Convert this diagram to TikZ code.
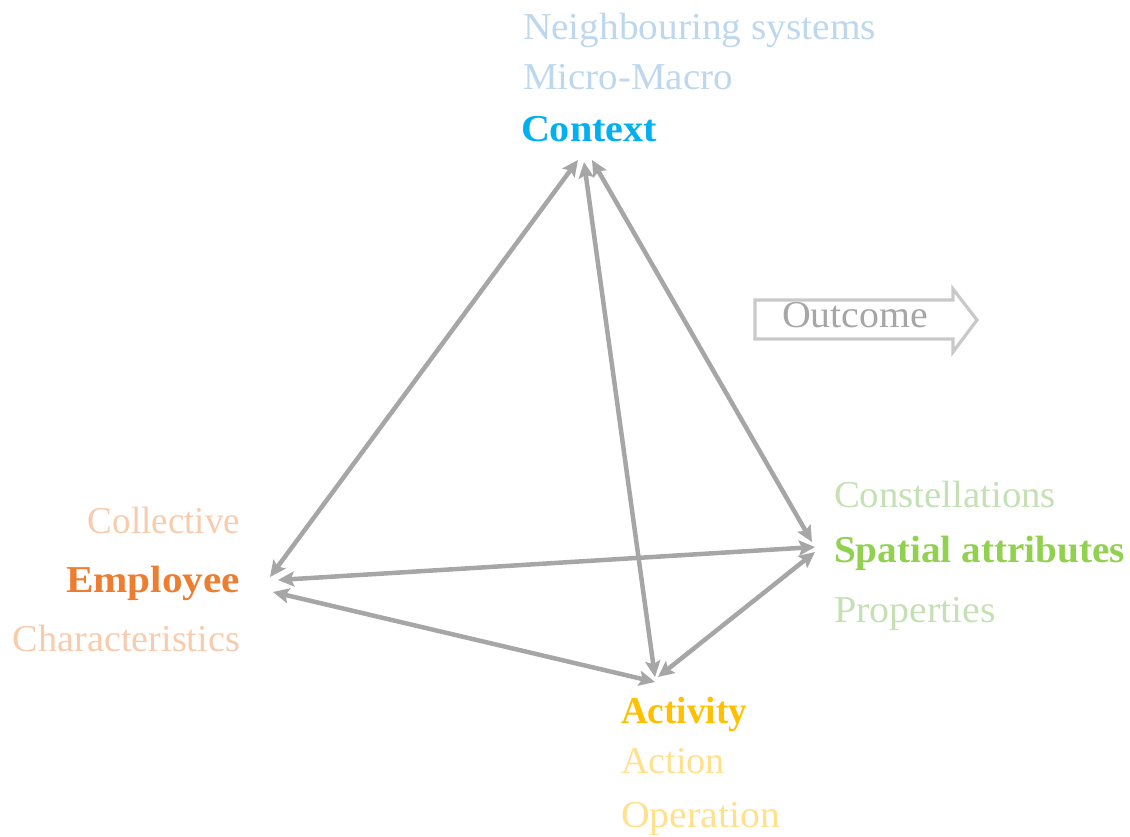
\documentclass[tikz,border=0pt]{standalone}
\usepackage{fontspec}
\setmainfont{Liberation Serif}
\usepackage{graphicx}
\usetikzlibrary{arrows.meta}
\definecolor{ctxblue}{HTML}{00B0F0}
\definecolor{ctxlight}{HTML}{BDD7EE}
\definecolor{empor}{HTML}{ED7D31}
\definecolor{emplight}{HTML}{F8CBAD}
\definecolor{spgreen}{HTML}{92D050}
\definecolor{splight}{HTML}{C5E0B4}
\definecolor{actyel}{HTML}{FFC000}
\definecolor{actlight}{HTML}{FFE08C}
\definecolor{linkgray}{HTML}{A6A6A6}
\definecolor{outline}{HTML}{C9C9C9}
\newcommand{\fitw}[2]{\resizebox{#1pt}{\height}{#2}}
\tikzset{
  lbl/.style={inner sep=0pt, outer sep=0pt, font=\fontsize{38}{40}\selectfont},
  blbl/.style={lbl, font=\fontsize{38}{40}\selectfont\bfseries},
  link/.style={draw=linkgray, line width=4.5pt, {Stealth[length=16pt,width=15pt,inset=3pt]}-{Stealth[length=16pt,width=15pt,inset=3pt]}},
}
\begin{document}
\begin{tikzpicture}[x=1pt,y=-1pt]
\useasboundingbox (0,0) rectangle (1130,837);
% Context texts
\node[lbl, text=ctxlight, anchor=base west] (neigh) at (523,40) {\fitw{353}{Neighbouring systems}};
\node[lbl, text=ctxlight, anchor=base west] (micro) at (523,90) {\fitw{210}{Micro-Macro}};
\node[blbl, text=ctxblue, anchor=base west] (context) at (521,142) {\fitw{136}{Context}};
% Employee texts
\node[lbl, text=emplight, anchor=base east] (coll) at (240,533) {\fitw{152}{Collective}};
\node[blbl, text=empor, anchor=base east] (employee) at (240,592) {\fitw{174}{Employee}};
\node[lbl, text=emplight, anchor=base east] (charac) at (240,651) {\fitw{227}{Characteristics}};
% Spatial texts
\node[lbl, text=splight, anchor=base west] (const) at (834,507) {\fitw{222}{Constellations}};
\node[blbl, text=spgreen, anchor=base west] (spatial) at (834,562) {\fitw{291}{Spatial attributes}};
\node[lbl, text=splight, anchor=base west] (prop) at (834,622) {\fitw{162}{Properties}};
% Activity texts
\node[blbl, text=actyel, anchor=base west] (activity) at (621,723) {\fitw{126}{Activity}};
\node[lbl, text=actlight, anchor=base west] (action) at (621,773) {\fitw{104}{Action}};
\node[lbl, text=actlight, anchor=base west] (oper) at (621,827) {\fitw{159}{Operation}};
% Outcome arrow
\draw[outline, line width=3.2pt, line join=miter] (755,300) -- (953,300) -- (953,289) -- (977,320) -- (953,352) -- (953,339) -- (755,339) -- cycle;
\node[lbl, text=linkgray, anchor=base west] (outcome) at (782,327) {\fitw{146}{Outcome}};
% vertex end points
\coordinate (cE) at (578,160);
\coordinate (cA) at (584,162);
\coordinate (cS) at (592,160);
\coordinate (eC) at (270,577);
\coordinate (eS) at (278,580);
\coordinate (eA) at (273,592);
\coordinate (sC) at (812,542);
\coordinate (sE) at (815,547);
\coordinate (sA) at (815,552);
\coordinate (aC) at (655,677);
\coordinate (aE) at (655,682);
\coordinate (aS) at (658,677);
% links
\draw[link] (cE) -- (eC);
\draw[link] (cA) -- (aC);
\draw[link] (cS) -- (sC);
\draw[link] (eS) -- (sE);
\draw[link] (eA) -- (aE);
\draw[link] (sA) -- (aS);
\end{tikzpicture}
\end{document}
